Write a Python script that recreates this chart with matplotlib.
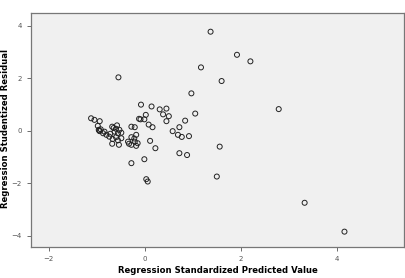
import matplotlib
matplotlib.use("Agg")
import matplotlib.pyplot as plt

# Regression Standardized Predicted Value
pred = [1.37, 1.92, 2.20, 1.17, 1.60, 0.97, -0.55, 2.79, -0.08, 0.14,
        0.31, 0.45, 0.38, 0.50, 1.05, 0.02, -0.09, -0.01, 0.45, 0.84,
        0.08, 0.16, 0.72, 0.58, 0.69, 0.77, 0.92, 1.56, 0.11, 0.22,
        0.72, 0.88, -0.01, -0.28, 0.03, 0.06, 1.50, 3.33, 4.16,
        -1.12, -1.05, -0.94, -0.98, -0.96, -0.94, -0.95, -0.92, -0.87, -0.80,
        -0.74, -0.84, -0.68, -0.60, -0.53, -0.63, -0.56, -0.49, -0.67, -0.56,
        -0.54, -0.68, -0.60, -0.49, -0.72, -0.65, -0.58, -0.28, -0.21, -0.28,
        -0.28, -0.35, -0.21, -0.18, -0.18, -0.22, -0.33, -0.15, -0.12]

# Regression Studentized Residual
resid = [3.77, 2.89, 2.64, 2.41, 1.89, 1.42, 2.03, 0.82, 0.99, 0.92,
         0.81, 0.84, 0.62, 0.55, 0.65, 0.60, 0.43, 0.43, 0.36, 0.38,
         0.23, 0.13, 0.13, -0.02, -0.16, -0.24, -0.21, -0.61, -0.39, -0.67,
         -0.86, -0.93, -1.09, -1.24, -1.85, -1.94, -1.75, -2.75, -3.85,
         0.47, 0.41, 0.36, 0.18, 0.03, -0.02, 0.00, 0.05, -0.10, -0.16,
         -0.23, -0.04, 0.15, 0.07, 0.03, -0.04, -0.10, -0.08, -0.32, -0.37,
         -0.54, -0.50, -0.25, -0.29, -0.12, 0.10, 0.20, 0.15, 0.13, -0.25,
         -0.54, -0.42, -0.42, -0.58, -0.16, -0.30, -0.50, -0.48, 0.45]

xticks = [-2, 0, 2, 4]
yticks = [-4, -2, 0, 2, 4]

fig = plt.figure(figsize=(4.06, 2.78), dpi=100)
ax = fig.add_axes([0.076, 0.112, 0.919, 0.841])
ax.set_facecolor("#f0f0f0")

ax.scatter(pred, resid, s=13, facecolors="none", edgecolors="#222222", linewidths=0.7)

ax.set_xlim(-2.375, 5.40)
ax.set_ylim(-4.43, 4.48)
ax.set_xticks(xticks)
ax.set_yticks(yticks)
ax.tick_params(labelsize=5, colors="#555555", length=3, width=0.6)

for s in ax.spines.values():
    s.set_color("#777777")
    s.set_linewidth(0.9)

ax.set_xlabel("Regression Standardized Predicted Value", fontsize=6.1,
              fontweight="bold")
ax.set_ylabel("Regression Studentized Residual", fontsize=6.1,
              fontweight="bold")
ax.xaxis.set_label_coords(0.5, -0.083)
ax.yaxis.set_label_coords(-0.057, 0.505)

fig.savefig("out.png", dpi=100)
